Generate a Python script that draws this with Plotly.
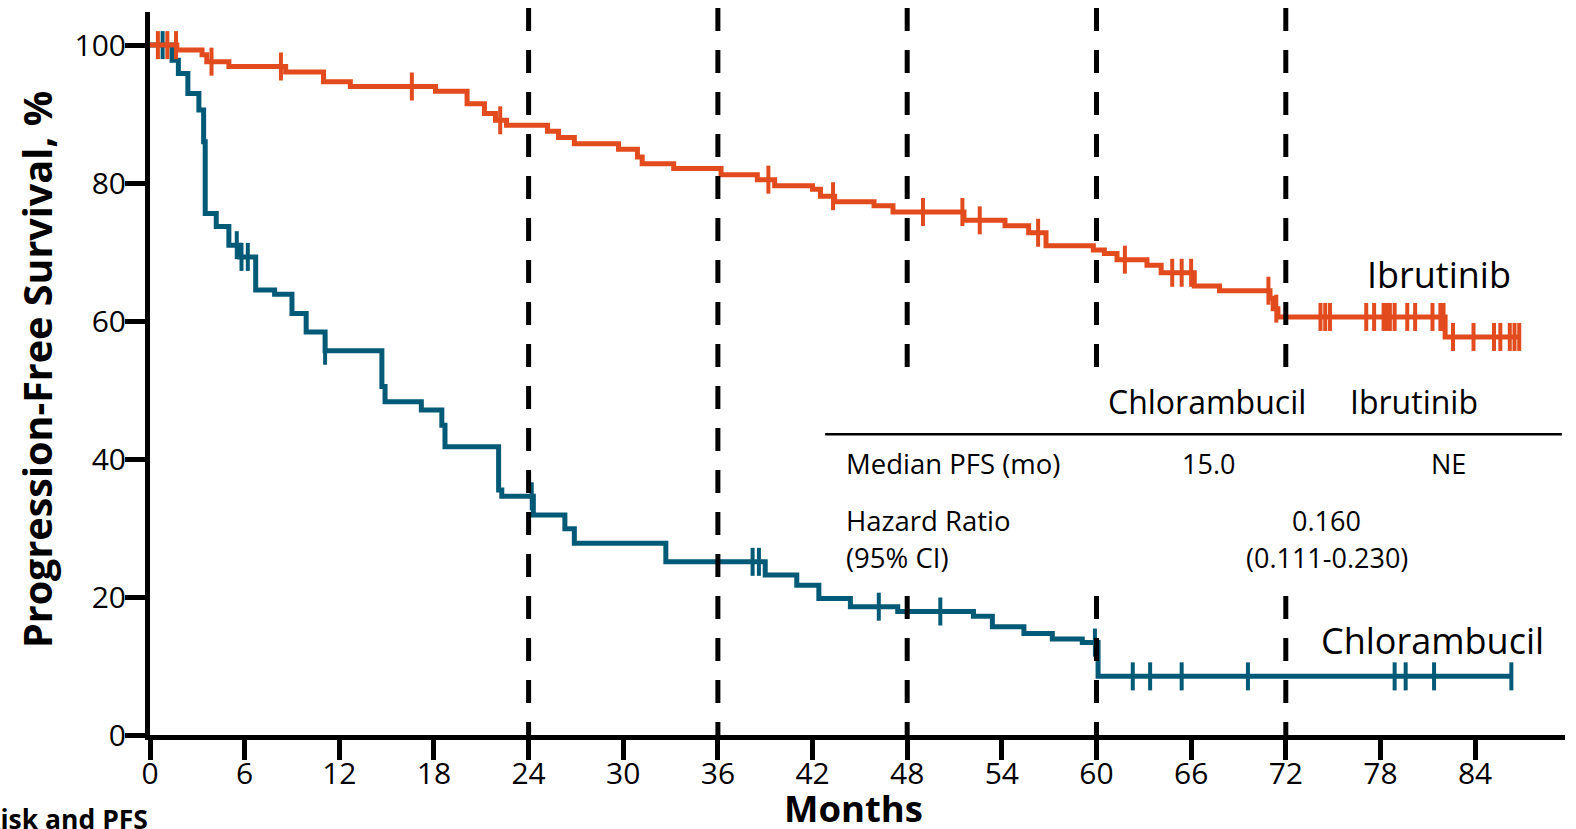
import numpy as np
import plotly.graph_objects as go

# Kaplan-Meier step data (months, % progression-free)
ibr_time = [0, 1.7, 3.3, 3.6, 5.0, 8.6, 11.0, 12.7, 18.1, 20.1, 21.2, 21.9, 22.6,
            25.2, 25.9, 26.9, 29.7, 30.9, 31.2, 33.2, 36.2, 38.5, 39.6, 42.0, 42.5,
            43.4, 45.9, 47.1, 51.6, 54.2, 55.7, 56.8, 59.8, 60.5, 61.3, 63.2, 64.1,
            66.2, 67.8, 71.0, 71.2, 71.5, 82.1, 86.9]
ibr_surv = [100, 99.3, 98.6, 97.6, 96.9, 96.1, 94.7, 94.0, 93.3, 91.5, 90.1, 89.1, 88.4,
            87.5, 86.6, 85.7, 84.9, 83.8, 82.8, 82.1, 81.2, 80.5, 79.6, 79.1, 78.1,
            77.3, 76.7, 75.8, 74.6, 73.8, 72.8, 70.9, 70.3, 69.8, 68.9, 68.1, 67.0,
            65.1, 64.4, 63.3, 61.8, 60.6, 57.7, 57.7]
ibr_censor = [0.5, 1.1, 1.65, 3.9, 8.3, 16.6, 22.2, 39.2, 43.3, 49.0, 51.5, 52.6, 56.3,
              61.8, 64.8, 65.4, 66.0, 70.9, 71.4, 74.2, 74.5, 74.8, 77.1, 77.6, 78.2,
              78.4, 78.6, 78.9, 79.7, 80.2, 81.3, 81.8, 82.0, 82.6, 83.9, 85.2, 85.6,
              86.2, 86.5, 86.8]

chl_time = [0, 1.4, 1.8, 2.4, 3.1, 3.4, 3.5, 4.2, 5.0, 5.7, 6.7, 7.9, 9.0, 9.9, 11.1,
            14.7, 14.9, 17.2, 18.5, 18.7, 22.1, 22.3, 24.3, 26.3, 26.9, 32.7, 39.0,
            41.0, 42.4, 44.4, 47.4, 52.2, 53.4, 55.4, 57.2, 59.1, 60.1, 86.3]
chl_surv = [100, 97.8, 95.9, 93.0, 90.6, 86.0, 75.6, 73.7, 71.0, 69.3, 64.5, 63.9, 61.1,
            58.4, 55.7, 50.5, 48.3, 47.1, 44.9, 41.8, 35.5, 34.6, 31.9, 29.9, 27.8,
            25.1, 23.2, 21.7, 19.8, 18.6, 17.9, 17.2, 15.7, 14.7, 13.9, 13.4, 8.5, 8.5]
chl_censor = [0.8, 5.5, 5.8, 6.2, 11.1, 24.2, 38.2, 38.6, 46.2, 50.1, 59.9, 62.3, 63.4,
              65.4, 69.6, 78.9, 79.6, 81.4, 86.3]

landmarks = [24, 36, 48, 60, 72]
x_ticks = list(range(0, 85, 6))
y_ticks = [0, 20, 40, 60, 80, 100]

ORANGE = "#E24B1E"
TEAL = "#035A76"
FONT = "Open Sans"


def level_at(times, surv, t):
    idx = np.searchsorted(np.asarray(times), np.asarray(t), side="right") - 1
    return np.asarray(surv)[idx]


fig = go.Figure()
for times, surv, cens, color in [
    (chl_time, chl_surv, chl_censor, TEAL),
    (ibr_time, ibr_surv, ibr_censor, ORANGE),
]:
    fig.add_trace(go.Scatter(
        x=times, y=surv, mode="lines", line=dict(color=color, width=5, shape="hv"),
        showlegend=False, hoverinfo="skip"))
    fig.add_trace(go.Scatter(
        x=cens, y=level_at(times, surv, cens), mode="markers",
        marker=dict(symbol="line-ns", size=20, line=dict(color=color, width=4)),
        showlegend=False, hoverinfo="skip"))

# landmark dashed verticals
for m in landmarks:
    fig.add_shape(type="line", xref="x", yref="paper", x0=m, x1=m, y0=1.0055, y1=0,
                  line=dict(color="black", width=5, dash="23px,19px"), layer="above")

# white panel behind the summary table
fig.add_shape(type="rect", xref="x", yref="y", x0=42.8, x1=89.7, y0=21.7, y1=52.2,
              fillcolor="white", line=dict(width=0), layer="above")

# table rule
fig.add_shape(type="line", xref="x", yref="y", x0=42.8, x1=89.5, y0=43.6, y1=43.6,
              line=dict(color="black", width=2.5), layer="above")

ann = []


def text(x, y, s, size, anchor="center", xref="x", yref="y", angle=0):
    ann.append(dict(x=x, y=y, xref=xref, yref=yref, text=s, showarrow=False,
                    xanchor=anchor, yanchor="middle", textangle=angle,
                    font=dict(family=FONT, size=size, color="black")))


# curve labels
text(81.7, 66.8, "Ibrutinib", 36)
text(81.3, 13.7, "Chlorambucil", 36)

# summary table
text(67.0, 48.3, "Chlorambucil", 32)
text(80.1, 48.3, "Ibrutinib", 32)
text(44.0, 39.4, "Median PFS (mo)", 27.5, anchor="left")
text(67.1, 39.4, "15.0", 27)
text(82.3, 39.4, "NE", 27)
text(44.0, 31.1, "Hazard Ratio", 27.5, anchor="left")
text(44.0, 25.7, "(95% CI)", 27.5, anchor="left")
text(74.6, 31.1, "0.160", 27)
text(74.6, 25.7, "(0.111-0.230)", 27)

# axis titles
text(-0.0799, 0.506, "<b>Progression-Free Survival, %</b>", 39.5, xref="paper", yref="paper", angle=-90)
text(0.4975, -0.1010, "<b>Months</b>", 36.5, xref="paper", yref="paper")
text(0.0, -0.116, "<b>Risk and PFS</b>", 26.5, anchor="right", xref="paper", yref="paper")

fig.update_layout(
    width=1576, height=829,
    margin=dict(l=150, r=11, t=12, b=94),
    paper_bgcolor="white", plot_bgcolor="white",
    font=dict(family=FONT, color="black"),
    annotations=ann,
    xaxis=dict(range=[0, 89.7], tickvals=x_ticks, ticks="outside", ticklen=20,
               tickwidth=5, tickcolor="black", showline=True, linewidth=5,
               linecolor="black", showgrid=False, zeroline=False,
               ticklabelstandoff=-12,
               tickfont=dict(size=30, family=FONT)),
    yaxis=dict(range=[0, 104.8], tickvals=y_ticks, ticks="outside", ticklen=20,
               tickwidth=5, tickcolor="black", showline=True, linewidth=5,
               linecolor="black", showgrid=False, zeroline=False,
               ticklabelstandoff=-7,
               tickfont=dict(size=30, family=FONT)),
)

fig.write_html("out.html")
